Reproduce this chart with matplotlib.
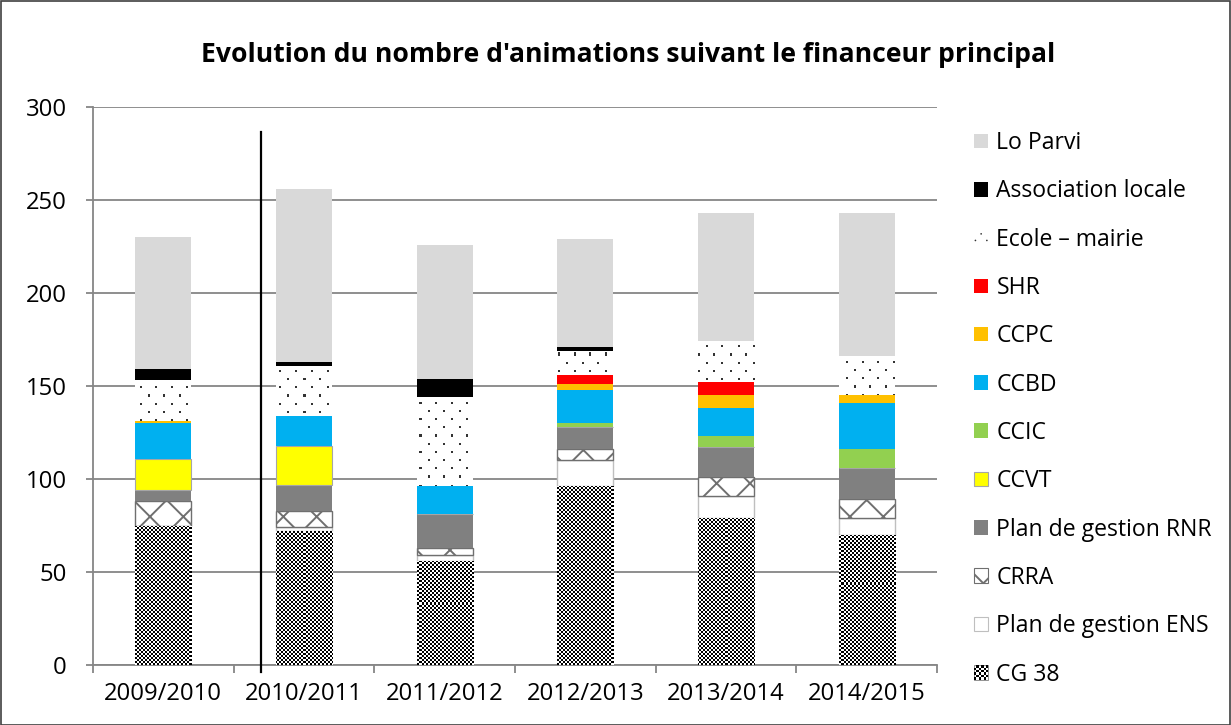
import numpy as np
import matplotlib
matplotlib.use("Agg")
import matplotlib.pyplot as plt
from matplotlib.patches import Rectangle, Patch, Circle
from matplotlib.legend_handler import HandlerBase

plt.rcParams['font.family'] = ['Open Sans', 'DejaVu Sans']
plt.rcParams['hatch.linewidth'] = 1.4

categories = ["2009/2010", "2010/2011", "2011/2012", "2012/2013", "2013/2014", "2014/2015"]

# stacked from bottom to top
cg38        = [75, 72, 56, 96, 79, 70]
plan_ens    = [0, 2, 3, 14, 12, 9]
crra        = [13, 9, 4, 6, 10, 10]
plan_rnr    = [6, 14, 18, 12, 16, 17]
ccvt        = [17, 21, 0, 0, 0, 0]
ccic        = [0, 0, 0, 2, 6, 10]
ccbd        = [19, 16, 15, 18, 15, 25]
ccpc        = [1, 0, 0, 3, 7, 4]
shr         = [0, 0, 0, 5, 7, 0]
ecole       = [22, 27, 48, 13, 22, 21]
asso        = [6, 2, 10, 2, 0, 0]
lo_parvi    = [71, 93, 72, 58, 69, 77]

series_names = ["CG 38", "Plan de gestion ENS", "CRRA", "Plan de gestion RNR", "CCVT",
                "CCIC", "CCBD", "CCPC", "SHR", "Ecole – mairie", "Association locale", "Lo Parvi"]
series_vals = [cg38, plan_ens, crra, plan_rnr, ccvt, ccic, ccbd, ccpc, shr, ecole, asso, lo_parvi]

styles = {
    "CG 38": dict(facecolor="white", edgecolor="#BFBFBF", linewidth=0.6),
    "Plan de gestion ENS": dict(facecolor="white", edgecolor="#BFBFBF", linewidth=1),
    "CRRA": dict(facecolor="white", edgecolor="#6F6F6F", hatch="x", linewidth=1),
    "Plan de gestion RNR": dict(facecolor="#808080", edgecolor="#808080", linewidth=0),
    "CCVT": dict(facecolor="#FFFF00", edgecolor="#A6A6A6", linewidth=0.8),
    "CCIC": dict(facecolor="#92D050", edgecolor="#92D050", linewidth=0),
    "CCBD": dict(facecolor="#00B0F0", edgecolor="#00B0F0", linewidth=0),
    "CCPC": dict(facecolor="#FFC000", edgecolor="#FFC000", linewidth=0),
    "SHR": dict(facecolor="#FF0000", edgecolor="#FF0000", linewidth=0),
    "Ecole – mairie": dict(facecolor="white", edgecolor="white", linewidth=0),
    "Association locale": dict(facecolor="#000000", edgecolor="#000000", linewidth=0),
    "Lo Parvi": dict(facecolor="#D9D9D9", edgecolor="#D9D9D9", linewidth=0),
}

W, H = 1231, 725
fig = plt.figure(figsize=(W / 100, H / 100), dpi=100)
ax = fig.add_axes([93 / W, (H - 665) / H, (937 - 93) / W, (665 - 107) / H])

x = np.arange(len(categories))
bottom = np.zeros(len(categories))
containers = {}
for name, vals in zip(series_names, series_vals):
    vals = np.array(vals, dtype=float)
    c = ax.bar(x, vals, width=0.4, bottom=bottom, label=name, zorder=3, **styles[name])
    containers[name] = c
    bottom += vals

xl = (-0.5, len(categories) - 0.5)
ax.set_xlim(*xl)
ax.set_ylim(0, 300)

# textures (checkerboard for CG 38, dotted for Ecole) drawn as images clipped to bars
ax_w, ax_h = 844, 558
yy, xx = np.indices((ax_h, ax_w))
checker = (((yy // 2) + (xx // 2)) % 2).astype(float)
dots = np.zeros((ax_h, ax_w, 4))
row = yy / 8.2
rid = np.floor(row).astype(int)
on_row = (row - rid) < 0.25
shift = np.where(rid % 2 == 0, 0.0, 7.75)
on_col = ((xx - shift) % 15.5) < 2
mask = on_row & on_col
dots[mask] = [0.2, 0.2, 0.2, 1.0]

for p in containers["CG 38"].patches:
    im = ax.imshow(checker, cmap="gray", vmin=0, vmax=1, interpolation="nearest",
                   extent=(xl[0], xl[1], 0, 300), aspect="auto", zorder=3.5)
    im.set_clip_path(p)
for p in containers["Ecole – mairie"].patches:
    im = ax.imshow(dots, interpolation="nearest",
                   extent=(xl[0], xl[1], 0, 300), aspect="auto", zorder=3.5)
    im.set_clip_path(p)
ax.set_xlim(*xl)
ax.set_ylim(0, 300)

# grid and axes
ax.set_yticks(np.arange(0, 301, 50))
ax.yaxis.grid(True, color="#868686", linewidth=1.3, zorder=0)
ax.set_axisbelow(True)
for s in ["top", "right"]:
    ax.spines[s].set_visible(False)
for s in ["left", "bottom"]:
    ax.spines[s].set_color("#868686")
    ax.spines[s].set_linewidth(1.3)
ax.set_xticks(x)
ax.set_xticklabels(categories)
ax.set_xticks(np.arange(-0.5, len(categories), 1), minor=True)
ax.tick_params(axis="x", which="major", length=0, pad=12, labelsize=17.2)
ax.tick_params(axis="x", which="minor", length=6, width=1.3, color="#868686")
ax.tick_params(axis="y", length=5, width=1.3, color="#868686", labelsize=17.2, pad=14)

# separator line
ax.plot([0.692, 0.692], [-4, 286.5], color="black", linewidth=1.6, clip_on=False, zorder=5)

# title
fig.text(628 / W, 1 - 55 / H, "Evolution du nombre d'animations suivant le financeur principal",
         ha="center", va="center", fontsize=19.1, fontweight="bold")


class CheckerHandler(HandlerBase):
    def create_artists(self, legend, orig_handle, xdescent, ydescent, width, height, fontsize, trans):
        arts = [Rectangle((-xdescent, -ydescent), width, height, facecolor="white",
                          edgecolor="#808080", linewidth=0.6, transform=trans)]
        n = 6
        cw, ch = width / n, height / n
        for i in range(n):
            for j in range(n):
                if (i + j) % 2 == 0:
                    arts.append(Rectangle((-xdescent + i * cw, -ydescent + j * ch), cw, ch,
                                          facecolor="black", linewidth=0, transform=trans))
        return arts


class DotsHandler(HandlerBase):
    def create_artists(self, legend, orig_handle, xdescent, ydescent, width, height, fontsize, trans):
        return [Circle((-xdescent + width * 0.1, -ydescent + height * 0.3), 0.6,
                       facecolor="#333333", linewidth=0, transform=trans),
                Circle((-xdescent + width * 0.5, -ydescent + height * 0.75), 0.6,
                       facecolor="#333333", linewidth=0, transform=trans),
                Circle((-xdescent + width * 0.9, -ydescent + height * 0.3), 0.6,
                       facecolor="#333333", linewidth=0, transform=trans)]


# legend
handles = []
handler_map = {}
for name in reversed(series_names):
    st = styles[name]
    h = Patch(facecolor=st["facecolor"], edgecolor=st["edgecolor"],
              hatch=st.get("hatch"), linewidth=0.8 if st.get("linewidth", 0) else 0, label=name)
    if name == "CG 38":
        handler_map[h] = CheckerHandler()
    elif name == "Ecole – mairie":
        handler_map[h] = DotsHandler()
    handles.append(h)
leg = fig.legend(handles=handles, handler_map=handler_map, loc="upper left",
                 bbox_to_anchor=(974 / W, 1 - 131 / H),
                 frameon=False, fontsize=16.6, handlelength=0.62, handleheight=0.6,
                 handletextpad=0.35, labelspacing=1.055, borderaxespad=0, borderpad=0)

# figure border
fig.patches.append(Rectangle((0.5 / W, 0.5 / H), 1 - 1.5 / W, 1 - 1.5 / H, transform=fig.transFigure,
                             fill=False, edgecolor="#404040", linewidth=1.2))

fig.savefig("out.png", dpi=100)
